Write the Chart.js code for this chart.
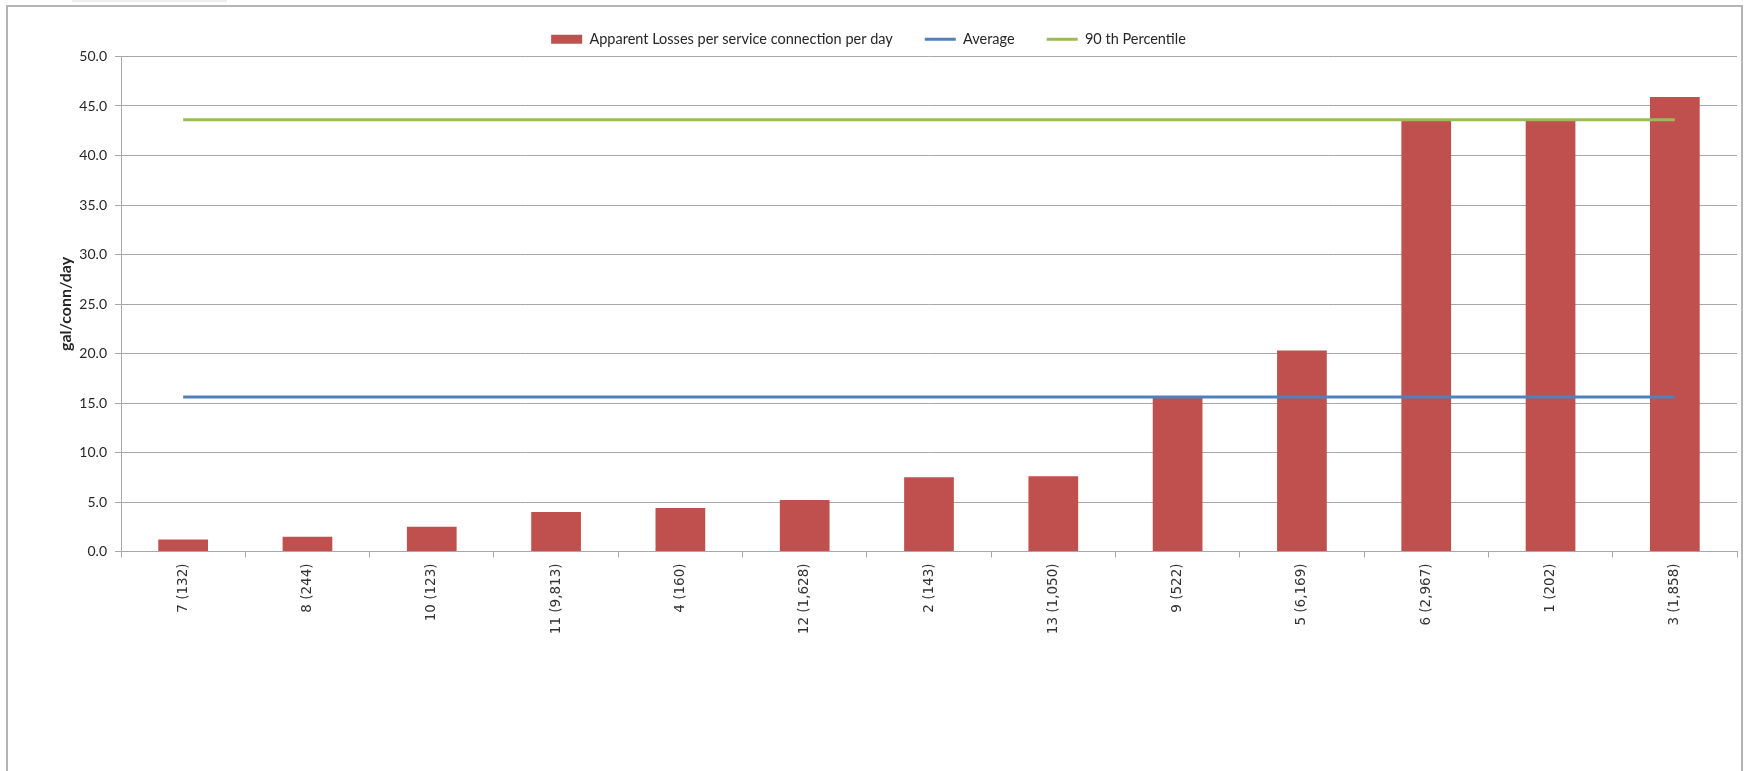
<!DOCTYPE html>
<html>
<head>
<meta charset="utf-8">
<script src="https://cdn.jsdelivr.net/npm/chart.js@4.4.1/dist/chart.umd.min.js"></script>
<style>
    html, body { margin: 0; padding: 0; background: #fff; overflow: hidden; }
    #wrap { position: relative; width: 1745px; height: 771px; }
    #frame { position: absolute; left: 6px; top: 5px; width: 1733px; height: 800px; border: 2px solid #b4b4b4; }
    #tab { position: absolute; left: 72px; top: 0; width: 155px; height: 2px; background: #ececec; }
    canvas { position: absolute; left: 0; top: 0; }
</style>
</head>
<body>
<div id="wrap">
    <div id="tab"></div>
    <div id="frame"></div>
    <canvas id="chart" width="1745" height="771"></canvas>
</div>
<script>
// zones with their service connection counts
const zones = ['7 (132)', '8 (244)', '10 (123)', '11 (9,813)', '4 (160)', '12 (1,628)', '2 (143)',
    '13 (1,050)', '9 (522)', '5 (6,169)', '6 (2,967)', '1 (202)', '3 (1,858)'];
const lossesPerConn = [1.2, 1.5, 2.5, 4.0, 4.4, 5.2, 7.5, 7.6, 15.5, 20.3, 43.6, 43.6, 45.9];
const averageLine = [15.6, 15.6, 15.6, 15.6, 15.6, 15.6, 15.6, 15.6, 15.6, 15.6, 15.6, 15.6, 15.6];
const pct90Line = [43.6, 43.6, 43.6, 43.6, 43.6, 43.6, 43.6, 43.6, 43.6, 43.6, 43.6, 43.6, 43.6];
const yTicks = [0, 5, 10, 15, 20, 25, 30, 35, 40, 45, 50];

const gridColor = '#a8a8a8';

function initChart() {
    const ctx = document.getElementById('chart').getContext('2d');

    new Chart(ctx, {
        type: 'bar',
        data: {
            labels: zones,
            datasets: [{
                type: 'bar',
                label: 'Apparent Losses per service connection per day',
                data: lossesPerConn,
                backgroundColor: '#c0504d',
                borderWidth: 0,
                pointStyle: 'rect',
                barPercentage: 0.4,
                categoryPercentage: 1.0,
                order: 1
            }, {
                type: 'line',
                label: 'Average',
                data: averageLine,
                borderColor: '#4f81bd',
                backgroundColor: '#4f81bd',
                borderWidth: 3,
                pointRadius: 0,
                pointStyle: 'line',
                fill: false,
                order: 0
            }, {
                type: 'line',
                label: '90 th Percentile',
                data: pct90Line,
                borderColor: '#9bbb59',
                backgroundColor: '#9bbb59',
                borderWidth: 3,
                pointRadius: 0,
                pointStyle: 'line',
                fill: false,
                order: 0
            }]
        },
        options: {
            responsive: false,
            animation: false,
            layout: {
                padding: { left: 0, right: 8, top: -8, bottom: 0 }
            },
            plugins: {
                tooltip: { enabled: false },
                legend: {
                    position: 'top',
                    labels: {
                        usePointStyle: true,
                        pointStyleWidth: 31,
                        boxHeight: 9,
                        padding: 32,
                        color: '#262626',
                        font: { family: 'Lato', size: 14.5 },
                        sort: (a, b) => a.datasetIndex - b.datasetIndex
                    }
                }
            },
            scales: {
                x: {
                    afterFit: (scale) => { scale.height = 219.5; },
                    border: { display: true, color: gridColor, width: 1 },
                    grid: {
                        display: true,
                        drawOnChartArea: false,
                        drawTicks: true,
                        tickLength: 6,
                        color: gridColor
                    },
                    ticks: {
                        autoSkip: false,
                        minRotation: 90,
                        maxRotation: 90,
                        padding: 6,
                        color: '#333333',
                        font: { family: '"DejaVu Sans"', size: 13.5 }
                    }
                },
                y: {
                    min: 0,
                    max: 50,
                    // fixed axis width, and keep the plot top clear of the legend
                    afterFit: (scale) => {
                        scale.width = 121;
                        scale.paddingTop = 56.5;
                    },
                    afterBuildTicks: (scale) => { scale.ticks = yTicks.map(v => ({ value: v })); },
                    border: { display: true, color: gridColor, width: 1 },
                    grid: {
                        color: gridColor,
                        lineWidth: 1,
                        drawTicks: true,
                        tickLength: 6
                    },
                    ticks: {
                        padding: 8,
                        color: '#262626',
                        font: { family: 'Lato', size: 14 },
                        callback: (v) => Number(v).toFixed(1)
                    },
                    title: {
                        display: true,
                        text: 'gal/conn/day',
                        color: '#262626',
                        font: { family: 'Lato', size: 16, weight: 'bold' },
                        padding: { top: 56, bottom: 0 }
                    }
                }
            }
        }
    });
}

document.addEventListener('DOMContentLoaded', () => {
    initChart();
});
</script>
</body>
</html>
